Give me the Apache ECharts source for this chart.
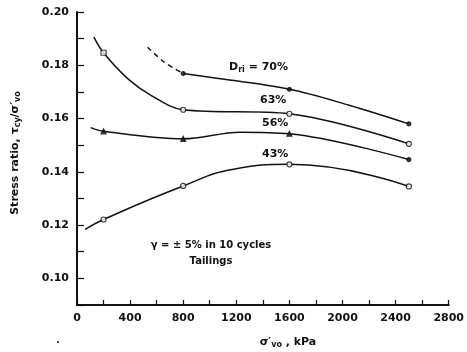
<!DOCTYPE html>
<html>
<head>
<meta charset="utf-8">
<script src="https://cdn.jsdelivr.net/npm/echarts@6/dist/echarts.min.js"></script>
<style>
html,body{margin:0;padding:0;background:#fff;}
#chart{width:467px;height:352px;}
</style>
</head>
<body>
<div id="chart"></div>
<script>
// ---- data ----
// measured points (with markers)
const x70 = [800, 1600, 2500];
const y70 = [0.1769, 0.1710, 0.1580];
const x63 = [200, 800, 1600, 2500];
const y63 = [0.1847, 0.1633, 0.1618, 0.1505];
const x56 = [200, 800, 1600, 2500];
const y56 = [0.1552, 0.1524, 0.1543, 0.1446];
const x43 = [200, 800, 1600, 2500];
const y43 = [0.1221, 0.1347, 0.1428, 0.1345];
// hand-drawn curve traces
const trace70dashX = [532, 657, 800];
const trace70dashY = [0.1868, 0.1812, 0.1769];
const trace70X = [800, 1000, 1600, 2050, 2500];
const trace70Y = [0.1769, 0.1755, 0.1710, 0.1650, 0.1580];
const trace63X = [127, 200, 382, 557, 800, 1600, 2500];
const trace63Y = [0.1906, 0.1847, 0.1750, 0.1687, 0.1633, 0.1618, 0.1505];
const trace56X = [103, 200, 800, 1228, 1600, 2500];
const trace56Y = [0.1566, 0.1552, 0.1524, 0.1549, 0.1543, 0.1446];
const trace43X = [62, 200, 800, 1180, 1600, 2500];
const trace43Y = [0.1184, 0.1221, 0.1347, 0.1410, 0.1428, 0.1345];
// axes
const xMin = 0, xMax = 2800, xStep = 200, xLabelStep = 400;
const yMin = 0.09, yMax = 0.20, yStep = 0.01;
const curveLabels = ['70%', '63%', '56%', '43%'];

const zip = (a, b) => a.map((v, i) => [v, b[i]]);
const FONT = 'DejaVu Sans';
const ink = '#111';

const lineStyle = {color: ink, width: 1.5};
function curve(xs, ys, dashed, sm) {
  return {
    type: 'line', data: zip(xs, ys), smooth: sm || 0.35, symbol: 'none',
    lineStyle: Object.assign({}, lineStyle, dashed ? {type: [5, 4]} : {}),
    silent: true, z: 2
  };
}
function marks(xs, ys, symbol, size, filled) {
  return {
    type: 'scatter', data: zip(xs, ys), symbol: symbol, symbolSize: size,
    itemStyle: {color: filled ? ink : '#fff', borderColor: ink, borderWidth: 1.2},
    silent: true, z: 3
  };
}

const chart = echarts.init(document.getElementById('chart'), null, {renderer: 'canvas'});
chart.setOption({
  animation: false,
  backgroundColor: '#fff',
  grid: {left: 77, right: 18, top: 12, bottom: 47, containLabel: false},
  xAxis: {
    type: 'value', min: xMin, max: xMax, interval: xStep,
    axisLine: {lineStyle: {color: ink, width: 2}},
    axisTick: {inside: true, length: 5, lineStyle: {color: ink, width: 1.2}},
    splitLine: {show: false},
    axisLabel: {
      color: ink, fontFamily: FONT, fontWeight: 'bold', fontSize: 11, margin: 8,
      formatter: v => (Math.round(v) % xLabelStep === 0 ? String(v) : '')
    }
  },
  yAxis: {
    type: 'value', min: yMin, max: yMax, interval: yStep,
    axisLine: {show: true, lineStyle: {color: ink, width: 2}},
    axisTick: {show: true, inside: true, length: 7, lineStyle: {color: ink, width: 1.2}},
    splitLine: {show: false},
    axisLabel: {
      color: ink, fontFamily: FONT, fontWeight: 'bold', fontSize: 11, margin: 8,
      formatter: v => (Math.round(v * 100) % 2 === 0 ? v.toFixed(2) : '')
    }
  },
  series: [
    curve(trace70dashX, trace70dashY, true),
    curve(trace70X, trace70Y, false),
    curve(trace63X, trace63Y, false),
    curve(trace56X, trace56Y, false),
    curve(trace43X, trace43Y, false, 0.5),
    marks(x70, y70, 'circle', 4, true),
    marks(x63.slice(0, 1), y63.slice(0, 1), 'rect', 5, false),
    marks(x63.slice(1), y63.slice(1), 'circle', 5, false),
    marks(x56.slice(0, 3), y56.slice(0, 3), 'triangle', 5, true),
    marks(x56.slice(3), y56.slice(3), 'circle', 4, true),
    marks(x43, y43, 'circle', 5, false)
  ],
  graphic: [
    {type: 'text', left: 229, top: 62, style: {
      text: '{b|D}{s|ri}{b| = ' + curveLabels[0] + '}',
      rich: {b: {fontFamily: FONT, fontWeight: 'bold', fontSize: 11, fill: ink},
             s: {fontFamily: FONT, fontWeight: 'bold', fontSize: 8, fill: ink, padding: [5, 0, 0, 0]}}
    }},
    {type: 'text', left: 260, top: 95, style: {text: curveLabels[1], font: 'bold 11px ' + FONT, fill: ink}},
    {type: 'text', left: 262, top: 118, style: {text: curveLabels[2], font: 'bold 11px ' + FONT, fill: ink}},
    {type: 'text', left: 262, top: 149, style: {text: curveLabels[3], font: 'bold 11px ' + FONT, fill: ink}},
    {type: 'text', x: 211, y: 245, style: {text: 'γ = ± 5% in 10 cycles', font: 'bold 10px ' + FONT, fill: ink, align: 'center', verticalAlign: 'middle'}},
    {type: 'text', x: 211, y: 261, style: {text: 'Tailings', font: 'bold 10px ' + FONT, fill: ink, align: 'center', verticalAlign: 'middle'}},
    {type: 'text', x: 15, y: 153, rotation: Math.PI / 2, style: {
      text: '{b|Stress ratio, τ}{s|cy}{b|/σ′}{s|vo}',
      align: 'center', verticalAlign: 'middle',
      rich: {b: {fontFamily: FONT, fontWeight: 'bold', fontSize: 11, fill: ink},
             s: {fontFamily: FONT, fontWeight: 'bold', fontSize: 8, fill: ink, padding: [5, 0, 0, 0]}}
    }},
    {type: 'text', x: 288, y: 342, style: {
      text: '{b|σ′}{s|vo}{b| , kPa}',
      align: 'center', verticalAlign: 'middle',
      rich: {b: {fontFamily: FONT, fontWeight: 'bold', fontSize: 11, fill: ink},
             s: {fontFamily: FONT, fontWeight: 'bold', fontSize: 8, fill: ink, padding: [5, 0, 0, 0]}}
    }},
    {type: 'circle', shape: {cx: 58, cy: 342, r: 1}, style: {fill: ink}}
  ]
});
</script>
</body>
</html>
